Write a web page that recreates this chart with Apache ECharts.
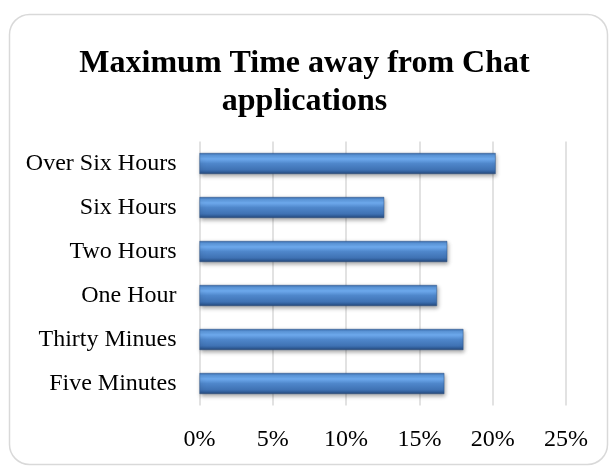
<!DOCTYPE html>
<html>
<head>
<meta charset="utf-8">
<script src="https://cdn.jsdelivr.net/npm/echarts@6/dist/echarts.min.js"></script>
<style>
  html, body { margin: 0; padding: 0; background: #fff; }
  #chart { width: 609px; height: 466px; }
</style>
</head>
<body>
<div id="chart"></div>
<script>
// Categories listed top to bottom
const categories = ['Over Six Hours', 'Six Hours', 'Two Hours', 'One Hour', 'Thirty Minues', 'Five Minutes'];
// Share of respondents, percent
const shares = [20.2, 12.6, 16.9, 16.2, 18.0, 16.7];
const xTicks = { min: 0, max: 25, interval: 5 };

const FONT = '"Liberation Serif", "Times New Roman", serif';

const chart = echarts.init(document.getElementById('chart'), null, { renderer: 'canvas' });

const barFill = new echarts.graphic.LinearGradient(0, 0, 0, 1, [
  { offset: 0.00, color: '#3a6cae' },
  { offset: 0.12, color: '#5d98dc' },
  { offset: 0.28, color: '#6eaaee' },
  { offset: 0.50, color: '#4f87cb' },
  { offset: 0.80, color: '#3f72b4' },
  { offset: 0.92, color: '#2f5b95' },
  { offset: 1.00, color: '#243f6a' }
]);

chart.setOption({
  animation: false,
  backgroundColor: '#ffffff',
  graphic: [{
    type: 'rect',
    left: 7, top: 12,
    shape: { width: 598, height: 450, r: 20 },
    style: { fill: 'none', stroke: '#d9d9d9', lineWidth: 1.5 },
    z: -1
  }],
  title: {
    text: 'Maximum Time away from Chat\napplications',
    left: 'center',
    top: 40,
    textStyle: {
      fontFamily: FONT,
      fontSize: 32,
      fontWeight: 'bold',
      color: '#000',
      lineHeight: 38
    }
  },
  grid: { left: 199.5, right: 43, top: 141.5, bottom: 60.5, containLabel: false },
  xAxis: {
    type: 'value',
    min: xTicks.min,
    max: xTicks.max,
    interval: xTicks.interval,
    axisLine: { show: false },
    axisTick: { show: false },
    axisLabel: {
      formatter: '{value}%',
      fontFamily: FONT,
      fontSize: 24,
      color: '#000',
      margin: 22
    },
    splitLine: { show: true, lineStyle: { color: '#d9d9d9', width: 1.5 } }
  },
  yAxis: {
    type: 'category',
    data: categories,
    inverse: true,
    axisLine: { show: false },
    axisTick: { show: false },
    axisLabel: {
      fontFamily: FONT,
      fontSize: 24,
      color: '#000',
      margin: 23
    }
  },
  series: [{
    type: 'bar',
    data: shares,
    barWidth: 21,
    itemStyle: {
      color: barFill,
      borderColor: '#2c5488',
      borderWidth: 0.5,
      shadowColor: 'rgba(0,0,0,0.35)',
      shadowBlur: 4,
      shadowOffsetY: 2,
      shadowOffsetX: 1
    }
  }]
});
</script>
</body>
</html>
